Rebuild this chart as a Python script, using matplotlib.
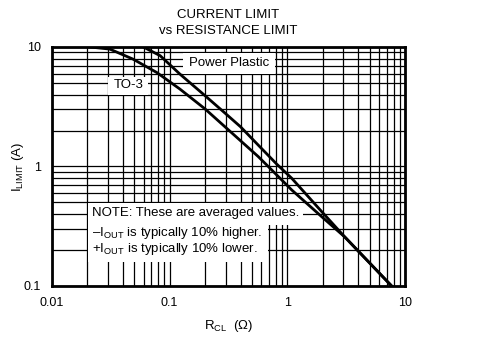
import matplotlib
matplotlib.use("Agg")
import matplotlib.pyplot as plt
from matplotlib.patches import Rectangle
from matplotlib.ticker import FixedLocator, LogLocator, NullFormatter

plt.rcParams["font.family"] = ["Liberation Sans", "DejaVu Sans"]
plt.rcParams["mathtext.fontset"] = "custom"
plt.rcParams["mathtext.rm"] = "Liberation Sans"

# values
to3_r = [0.021, 0.031, 0.049, 0.078, 0.122, 0.20, 0.295, 0.566, 0.71, 1.09, 1.96, 3.08, 7.7]
to3_i = [10.0, 9.6, 7.9, 6.1, 4.45, 3.03, 2.15, 1.21, 0.97, 0.636, 0.38, 0.257, 0.1]

pp_r = [0.0597, 0.083, 0.122, 0.20, 0.295, 0.40, 0.566, 0.81, 1.09, 1.96, 3.08, 7.7]
pp_i = [10.0, 8.46, 5.94, 3.91, 2.8, 2.15, 1.51, 1.05, 0.797, 0.419, 0.257, 0.1]

x_ticks = [0.01, 0.1, 1, 10]
x_labels = ["0.01", "0.1", "1", "10"]
y_ticks = [0.1, 1, 10]
y_labels = ["0.1", "1", "10"]

fig = plt.figure(figsize=(4.79, 3.41), dpi=100)
ax = fig.add_axes([0.1086, 0.1613, 0.7369, 0.7009])

ax.set_xscale("log")
ax.set_yscale("log")
ax.set_xlim(0.01, 10)
ax.set_ylim(0.1, 10)

ax.xaxis.set_major_locator(FixedLocator(x_ticks))
ax.yaxis.set_major_locator(FixedLocator(y_ticks))
ax.set_xticklabels(x_labels)
ax.set_yticklabels(y_labels)
ax.xaxis.set_minor_locator(LogLocator(base=10, subs=range(2, 10)))
ax.yaxis.set_minor_locator(LogLocator(base=10, subs=range(2, 10)))
ax.xaxis.set_minor_formatter(NullFormatter())
ax.yaxis.set_minor_formatter(NullFormatter())
ax.tick_params(which="both", length=0, labelsize=9)
ax.tick_params(axis="x", pad=8)
ax.tick_params(axis="y", pad=8)

ax.set_axisbelow(True)
ax.grid(which="both", color="black", linewidth=0.9)
for sp in ax.spines.values():
    sp.set_linewidth(2.0)
    sp.set_zorder(6)

ax.plot(to3_r, to3_i, color="black", linewidth=2.0, zorder=5)
ax.plot(pp_r, pp_i, color="black", linewidth=2.0, zorder=5)

# white label boxes that break the grid
boxes = [
    (0.372, 0.887, 0.260, 0.087),
    (0.1586, 0.801, 0.1134, 0.0735),
    (0.102, 0.255, 0.609, 0.092),
    (0.102, 0.100, 0.510, 0.155),
]
for bx, by, bw, bh in boxes:
    ax.add_patch(Rectangle((bx, by), bw, bh, transform=ax.transAxes,
                           facecolor="white", edgecolor="none", zorder=3))

ax.text(0.5014, 0.932, "Power Plastic", transform=ax.transAxes,
        ha="center", va="center", fontsize=9.5, zorder=4)
ax.text(0.218, 0.841, "TO-3", transform=ax.transAxes,
        ha="center", va="center", fontsize=9.5, zorder=4)
ax.text(0.1133, 0.3054, "NOTE: These are averaged values.", transform=ax.transAxes,
        ha="left", va="center", fontsize=9.5, zorder=4)
ax.text(0.1133, 0.2218, "\u2013I$_{\\mathregular{OUT}}$ is typically 10% higher.",
        transform=ax.transAxes, ha="left", va="center", fontsize=9.5, zorder=4)
ax.text(0.1133, 0.1548, "+I$_{\\mathregular{OUT}}$ is typically 10% lower.",
        transform=ax.transAxes, ha="left", va="center", fontsize=9.5, zorder=4)

fig.text(0.477, 0.955, "CURRENT LIMIT", ha="center", va="center", fontsize=9.5)
fig.text(0.477, 0.908, "vs RESISTANCE LIMIT", ha="center", va="center", fontsize=9.5)

fig.text(0.477, 0.044, "R$_{\\mathregular{CL}}$  (\u03a9)", ha="center", va="center", fontsize=9.5)
fig.text(0.038, 0.512, "I$_{\\mathregular{LIMIT}}$ (A)", ha="center", va="center",
         rotation=90, fontsize=9.5)

fig.savefig("out.png", dpi=100)
